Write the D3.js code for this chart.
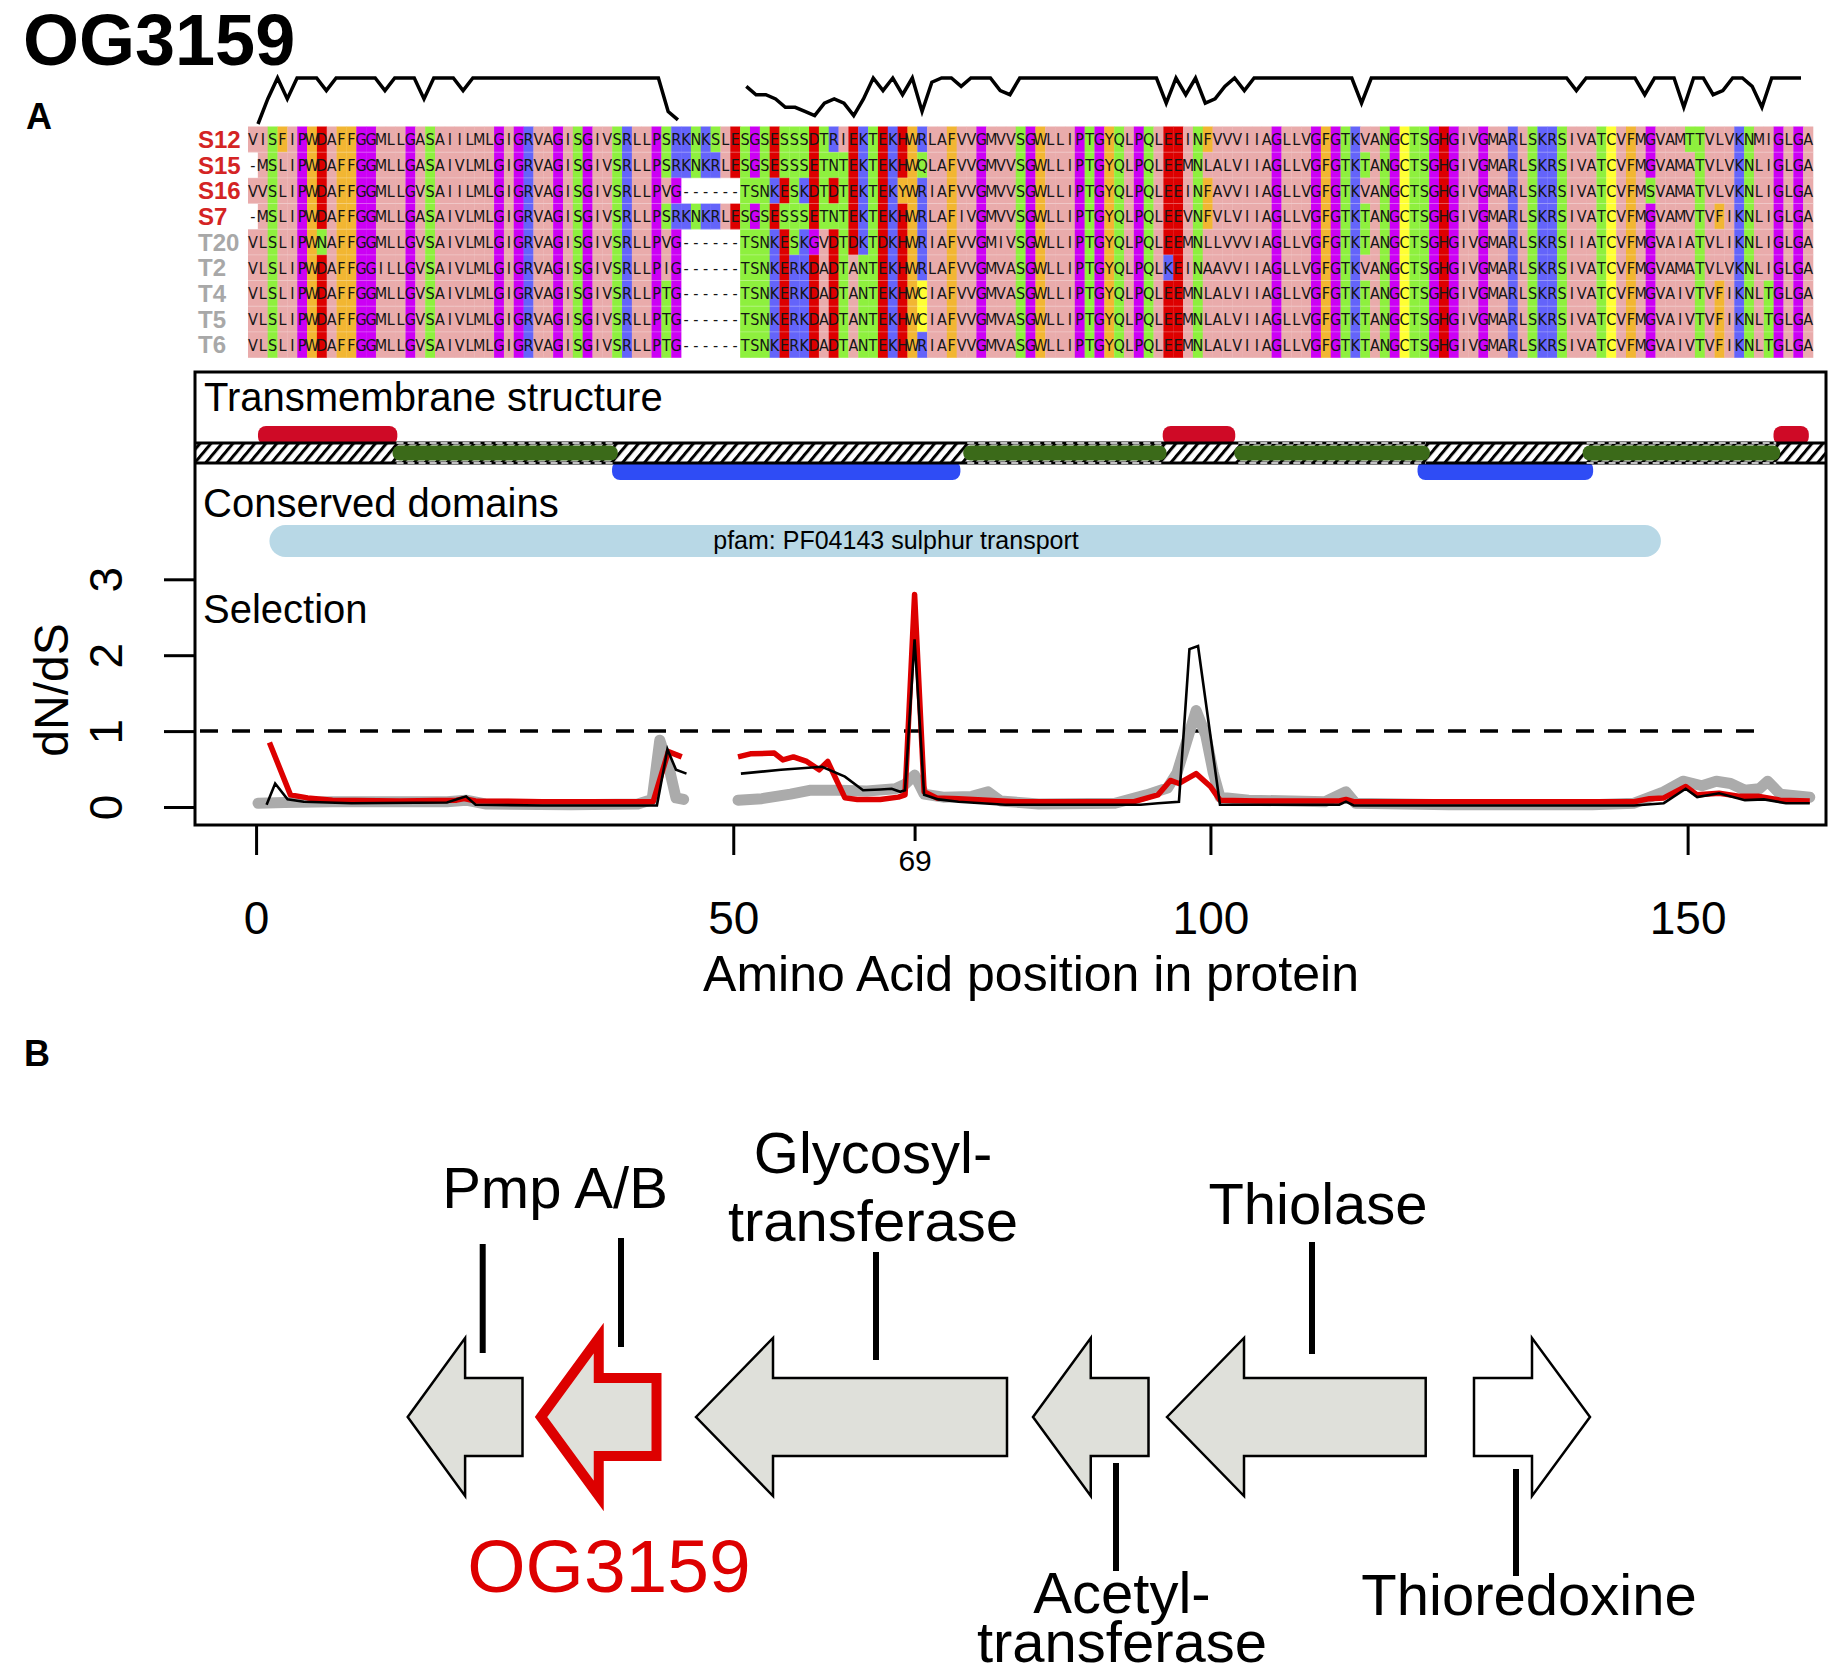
<!DOCTYPE html>
<html><head><meta charset="utf-8">
<script src="https://cdn.jsdelivr.net/npm/d3@7/dist/d3.min.js"></script>
<style>
html,body{margin:0;padding:0;background:#fff;}
svg{display:block;}
</style></head>
<body>
<svg id="chart" width="1837" height="1670"></svg>
<script>
// ---------------- DATA ----------------
const seqNames  = ["S12","S15","S16","S7","T20","T2","T4","T5","T6"];
const seqGroups = ["S","S","S","S","T","T","T","T","T"];
const seqStrings = [
 "VISFIPWDAFFGGMLLGASAIILMLGIGRVAGISGIVSRLLPSRKNKSL"+"ESGSESSSDTRIEKTEKHWRLAFVVGMVVSGWLLIPTGYQLPQLEEINFVVVII"+"AGLLVGFGTKVANGCTSGHGIVGMARLSKRSIVATCVFMGVAMTTVLVKNMIGLGA",
 "-MSLIPWDAFFGGMLLGASAIVLMLGIGRVAGISGIVSRLLPSRKNKRL"+"ESGSESSSETNTEKTEKHWQLAFVVGMVVSGWLLIPTGYQLPQLEEMNLALVII"+"AGLLVGFGTKTANGCTSGHGIVGMARLSKRSIVATCVFMGVAMATVLVKNLIGLGA",
 "VVSLIPWDAFFGGMLLGVSAIILMLGIGRVAGISGIVSRLLPVG------"+"TSNKESKDTDTEKTEKYWRIAFVVGMVVSGWLLIPTGYQLPQLEEINFAVVII"+"AGLLVGFGTKVANGCTSGHGIVGMARLSKRSIVATCVFMSVAMATVLVKNLIGLGA",
 "-MSLIPWDAFFGGMLLGASAIVLMLGIGRVAGISGIVSRLLPSRKNKRL"+"ESGSESSSETNTEKTEKHWRLAFIVGMVVSGWLLIPTGYQLPQLEEVNFVLVII"+"AGLLVGFGTKTANGCTSGHGIVGMARLSKRSIVATCVFMGVAMVTVFIKNLIGLGA",
 "VLSLIPWNAFFGGMLLGVSAIVLMLGIGRVAGISGIVSRLLPVG------"+"TSNKESKGVDTDKTDKHWRIAFVVGMIVSGWLLIPTGYQLPQLEEMNLLVVVI"+"AGLLVGFGTKTANGCTSGHGIVGMARLSKRSIIATCVFMGVAIATVLIKNLIGLGA",
 "VLSLIPWDAFFGGILLGVSAIVLMLGIGRVAGISGIVSRLLPIG------"+"TSNKERKDADTANTEKHWRLAFVVGMVASGWLLIPTGYQLPQLKEINAAVVII"+"AGLLVGFGTKVANGCTSGHGIVGMARLSKRSIVATCVFMGVAMATVLVKNLIGLGA",
 "VLSLIPWDAFFGGMLLGVSAIVLMLGIGRVAGISGIVSRLLPTG------"+"TSNKERKDADTANTEKHWCIAFVVGMVASGWLLIPTGYQLPQLEEMNLALVII"+"AGLLVGFGTKTANGCTSGHGIVGMARLSKRSIVATCVFMGVAIVTVFIKNLTGLGA",
 "VLSLIPWDAFFGGMLLGVSAIVLMLGIGRVAGISGIVSRLLPTG------"+"TSNKERKDADTANTEKHWCIAFVVGMVASGWLLIPTGYQLPQLEEMNLALVII"+"AGLLVGFGTKTANGCTSGHGIVGMARLSKRSIVATCVFMGVAIVTVFIKNLTGLGA",
 "VLSLIPWDAFFGGMLLGVSAIVLMLGIGRVAGISGIVSRLLPTG------"+"TSNKERKDADTANTEKHWRIAFVVGMVASGWLLIPTGYQLPQLEEMNLALVII"+"AGLLVGFGTKTANGCTSGHGIVGMARLSKRSIVATCVFMGVAIVTVFIKNLTGLGA"
];
// conservation score per alignment column (0-11), null = gap
const conservation = [
 0,6,11,6,11,11,11,8,11,11,
 11,11,11,8,11,11,11,6,11,11,
 11,8,11,11,11,11,11,11,11,11,
 11,11,11,11,11,11,11,11,11,11,
 11,11,3,1,null,null,null,null,null,null,
 9,7,7,6,4,4,3,2,5,6,
 5,2,6,11,8,11,7,11,3,10,
 11,11,9,11,11,11,8,7,11,11,
 11,11,11,11,11,11,11,11,11,11,
 11,11,11,5,11,7,11,5,6,9,
 11,8,11,11,11,11,11,11,11,11,
 11,11,11,5,11,11,11,11,11,11,
 11,11,11,11,11,11,11,11,11,11,
 11,11,11,11,11,8,11,11,11,11,
 11,11,7,11,11,11,4,11,11,7,
 8,11,11,9,4,11,11,11,11
];
// transmembrane topology (amino acid positions)
const topoStart = [0.2, 14.3, 37.3, 74.1, 95.0, 102.5, 121.7, 139.0, 159.0];
const topoEnd   = [14.8, 37.9, 73.8, 95.4, 102.6, 123.0, 140.1, 159.7, 162.7];
const topoType  = ["outside","TM","inside","TM","outside","TM","inside","TM","outside"];
// conserved domain
const domainStart = [1.4], domainEnd = [147.2], domainLabel = ["pfam: PF04143 sulphur transport"];
// dN/dS series: [position, value], null = break
const selGrey = [[0.2,0.05],[3,0.06],[8,0.07],[15,0.07],[20,0.07],[22,0.09],[24,0.04],[33,0.03],[40,0.04],[41.5,0.1],[42.3,0.88],[43.3,0.5],[44,0.12],[44.8,0.1],
 null,
 [50.5,0.09],[53,0.11],[56,0.17],[58,0.22],[61,0.22],[64,0.21],[67,0.24],[68,0.3],[69,0.42],[70,0.17],[72,0.13],[75,0.14],[76.7,0.2],[78,0.08],[82,0.04],[90,0.05],[93.3,0.16],[95.5,0.25],[96.5,0.45],[98.5,1.27],[99.5,0.95],[100.3,0.45],[101,0.13],[104,0.09],[112,0.07],[114.2,0.2],[115.2,0.05],[125,0.03],[140,0.03],[144.4,0.05],[147.5,0.2],[149.5,0.34],[151.5,0.28],[153,0.34],[154.5,0.31],[156,0.22],[157.5,0.24],[158.4,0.34],[159.7,0.17],[162.8,0.13]];
const selRed = [[1.4,0.85],[3.6,0.16],[5.4,0.12],[8,0.09],[15,0.08],[21,0.09],[21.8,0.11],[23,0.08],[30,0.07],[41.6,0.07],[42.4,0.4],[43.2,0.73],[44,0.69],[44.6,0.66],
 null,
 [50.5,0.66],[51.8,0.7],[54.3,0.71],[55.2,0.62],[56.3,0.66],[57.7,0.6],[59,0.49],[59.9,0.6],[61.7,0.12],[63,0.1],[65.4,0.1],[67.3,0.13],[68,0.16],[69,2.8],[70,0.2],[71.3,0.12],[73.6,0.11],[79.7,0.07],[92,0.07],[94.5,0.16],[95.8,0.35],[96.7,0.31],[98.5,0.44],[100,0.27],[101,0.09],[105,0.08],[113.5,0.08],[114.2,0.1],[115,0.07],[130,0.07],[144.4,0.07],[146,0.11],[147.5,0.12],[149.8,0.27],[151,0.16],[153.3,0.18],[155.5,0.14],[157.5,0.14],[159.7,0.09],[162.8,0.08]];
const selBlack = [[1.1,0.03],[2,0.31],[3.3,0.1],[5,0.07],[10,0.05],[20,0.06],[22,0.14],[23,0.03],[30,0.02],[42,0.02],[43.1,0.76],[44,0.49],[45.1,0.44],
 null,
 [50.8,0.44],[55,0.49],[59.3,0.53],[61.7,0.4],[63.6,0.22],[65.4,0.23],[66.6,0.24],[67.5,0.2],[68,0.22],[69,2.21],[70,0.16],[71.5,0.1],[73.6,0.07],[78.5,0.03],[92.7,0.03],[94.5,0.05],[96.7,0.07],[97.8,2.08],[98.7,2.12],[101,0.03],[113.5,0.03],[114.2,0.07],[115,0.02],[144.4,0.02],[147.5,0.05],[149.8,0.24],[151,0.13],[153.3,0.18],[156,0.09],[158,0.1],[160.3,0.05],[162.8,0.05]];
const neutralRatio = 1, neutralLineEnd = 157.9;
const yTicks = [0,1,2,3];
const xTicks = [0,50,100,150];
const highlightPos = [69];
// gene neighbourhood (bp)
const geneNames  = ["Pmp A/B","OG3159","Glycosyltransferase","Acetyltransferase","Thiolase","Thioredoxine"];
const geneStart  = [77, 1410, 2960, 6330, 7670, 10740];
const geneEnd    = [1225, 2565, 6070, 7485, 10257, 11900];
const geneStrand = [-1,-1,-1,-1,-1,1];
const geneMarkerPos = [827, 2210, 4760, 7160, 9120, 11160];

// ---------------- LAYOUT / STYLE ----------------
const FONT = '"Liberation Sans", Arial, Helvetica, sans-serif';
const svg = d3.select("#chart").attr("font-family", FONT);
const resColor = {A:"#e9abab",I:"#e9abab",L:"#e9abab",M:"#e9abab",V:"#e9abab",
  F:"#f2b632",W:"#f2b632",Y:"#f2b632",K:"#6464fa",R:"#6464fa",
  H:"#dd0000",D:"#dd0000",E:"#dd0000",S:"#8ef03e",T:"#8ef03e",N:"#8ef03e",Q:"#8ef03e",
  P:"#cc00f5",G:"#cc00f5",C:"#ffff33"};

// title & panel letters
svg.append("text").attr("x",23).attr("y",65).attr("font-size",72).attr("font-weight","bold").text("OG3159");
svg.append("text").attr("x",26).attr("y",129).attr("font-size",36).attr("font-weight","bold").text("A");
svg.append("text").attr("x",24).attr("y",1066).attr("font-size",36).attr("font-weight","bold").text("B");

// ---- alignment ----
const nCol = seqStrings[0].length;
const colX = d3.scaleBand().domain(d3.range(1,nCol+1)).range([248,1813]);
const rowY = d3.scaleBand().domain(seqNames).range([126.5,357.5]);
const aln = svg.append("g");
seqStrings.forEach((s,i)=>{
  const name = seqNames[i];
  const cells = s.split("").map((c,j)=>({c, col:j+1}));
  const g = aln.append("g");
  g.selectAll("rect").data(cells.filter(d=>d.c!=="-")).join("rect")
    .attr("x",d=>colX(d.col)).attr("y",rowY(name))
    .attr("width",colX.bandwidth()+0.3).attr("height",rowY.bandwidth()+0.3)
    .attr("fill",d=>resColor[d.c]||"#fff");
  g.selectAll("text").data(cells).join("text")
    .attr("x",d=>colX(d.col)+colX.bandwidth()/2).attr("y",rowY(name)+rowY.bandwidth()/2+6)
    .attr("text-anchor","middle").attr("font-size",16)
    .attr("font-family",'"Liberation Sans Narrow","DejaVu Sans Condensed",Arial,sans-serif')
    .attr("font-stretch","condensed")
    .attr("fill","#151515").text(d=>d.c);
  aln.append("text").attr("x",198).attr("y",rowY(name)+21.5)
    .attr("font-size",24).attr("font-weight","bold")
    .attr("fill",seqGroups[i]==="S"?"#d42424":"#a8a8a8").text(name);
});
aln.selectAll("line.sep").data(seqNames.slice(1)).join("line")
  .attr("x1",248).attr("x2",1813).attr("y1",d=>rowY(d)).attr("y2",d=>rowY(d))
  .attr("stroke","#fff").attr("stroke-opacity",0.35).attr("stroke-width",0.8);

// conservation line
const consX = d3.scaleLinear().domain([1,nCol]).range([258,1801]);
const consY = d3.scaleLinear().domain([0,11]).range([124,78]);
svg.append("path")
  .datum(conservation.map((v,i)=>v===null?null:[i+1,v]))
  .attr("d", d3.line().defined(d=>d!==null).x(d=>consX(d[0])).y(d=>consY(d[1])))
  .attr("fill","none").attr("stroke","#000").attr("stroke-width",3.5).attr("stroke-linejoin","miter");

// ---- lower panel ----
const x = d3.scaleLinear().domain([-6.4,164.5]).range([195,1826]);
const y = d3.scaleLinear().domain([0,3]).range([807,579.3]);
const boxL=195, boxR=1826, boxT=372, boxB=825;

svg.append("text").attr("x",204).attr("y",411).attr("font-size",40).text("Transmembrane structure");
svg.append("text").attr("x",203).attr("y",517).attr("font-size",40).text("Conserved domains");
svg.append("text").attr("x",203).attr("y",623).attr("font-size",40).text("Selection");

const defs = svg.append("defs");
const pat = defs.append("pattern").attr("id","hatch").attr("patternUnits","userSpaceOnUse")
  .attr("width",8.4).attr("height",8.4).attr("patternTransform","rotate(40)");
pat.append("rect").attr("width",8.4).attr("height",8.4).attr("fill","#fff");
pat.append("line").attr("x1",1.5).attr("y1",-1).attr("x2",1.5).attr("y2",10).attr("stroke","#000").attr("stroke-width",3);

const topo = topoStart.map((s,i)=>({s, e:topoEnd[i], t:topoType[i]}));
const bandT = 442, bandB = 464;
svg.append("g").selectAll("rect").data(topo.filter(d=>d.t!=="TM")).join("rect")
  .attr("x",d=>x(d.s)).attr("width",d=>x(d.e)-x(d.s))
  .attr("y",d=>d.t==="outside"?426:461).attr("height",19).attr("rx",8)
  .attr("fill",d=>d.t==="outside"?"#cf0a26":"#2f4cf5");
svg.append("rect").attr("x",boxL).attr("y",bandT).attr("width",boxR-boxL).attr("height",bandB-bandT).attr("fill","url(#hatch)");
svg.append("line").attr("x1",boxL).attr("x2",boxR).attr("y1",bandT+1).attr("y2",bandT+1).attr("stroke","#000").attr("stroke-width",3);
svg.append("line").attr("x1",boxL).attr("x2",boxR).attr("y1",bandB-1).attr("y2",bandB-1).attr("stroke","#000").attr("stroke-width",3);
const tm = topo.filter(d=>d.t==="TM");
svg.append("g").selectAll("rect").data(tm).join("rect")
  .attr("x",d=>x(d.s)).attr("width",d=>x(d.e)-x(d.s))
  .attr("y",bandT+3.5).attr("height",bandB-bandT-7).attr("rx",7)
  .attr("fill","#3b6a19");
[bandT+1,bandB-1].forEach(yy=>{
  svg.append("g").selectAll("line").data(tm).join("line")
    .attr("x1",d=>x(d.s)+4).attr("x2",d=>x(d.e)-4).attr("y1",yy).attr("y2",yy)
    .attr("stroke","#fff").attr("stroke-width",1.6).attr("stroke-dasharray","7,4");
});
const dom = domainStart.map((s,i)=>({s,e:domainEnd[i],l:domainLabel[i]}));
svg.append("g").selectAll("rect").data(dom).join("rect")
  .attr("x",d=>x(d.s)).attr("width",d=>x(d.e)-x(d.s)).attr("y",525).attr("height",32).attr("rx",16)
  .attr("fill","#b8d8e6");
svg.append("g").selectAll("text").data(dom).join("text")
  .attr("x",896).attr("y",549).attr("text-anchor","middle").attr("font-size",25).text(d=>d.l);

svg.append("line").attr("x1",200).attr("x2",x(neutralLineEnd)).attr("y1",y(neutralRatio)).attr("y2",y(neutralRatio))
  .attr("stroke","#000").attr("stroke-width",3.5).attr("stroke-dasharray","18,14");

const lineGen = d3.line().defined(d=>d!==null).x(d=>x(d[0])).y(d=>y(d[1]));
svg.append("path").datum(selGrey).attr("d",lineGen).attr("fill","none")
  .attr("stroke","#ababab").attr("stroke-width",11).attr("stroke-linejoin","round").attr("stroke-linecap","round");
svg.append("path").datum(selRed).attr("d",lineGen).attr("fill","none")
  .attr("stroke","#dd0000").attr("stroke-width",5.5).attr("stroke-linejoin","round");
svg.append("path").datum(selBlack).attr("d",lineGen).attr("fill","none")
  .attr("stroke","#000").attr("stroke-width",2.6).attr("stroke-linejoin","miter");

svg.append("rect").attr("x",boxL).attr("y",boxT).attr("width",boxR-boxL).attr("height",boxB-boxT)
  .attr("fill","none").attr("stroke","#000").attr("stroke-width",3);

const yAx = svg.append("g").attr("transform",`translate(${boxL},0)`)
  .call(d3.axisLeft(y).tickValues(yTicks).tickSize(31).tickSizeOuter(0).tickFormat(d3.format("d")));
yAx.select(".domain").remove();
yAx.selectAll(".tick line").attr("stroke-width",3);
yAx.selectAll(".tick text").attr("x",null).attr("dy",null).attr("y",null)
  .attr("transform",`translate(${122-boxL},0) rotate(-90)`)
  .attr("text-anchor","middle").attr("font-size",46).attr("font-family",FONT).attr("fill","#000");

const xAx = svg.append("g").attr("transform",`translate(0,${boxB+1})`)
  .call(d3.axisBottom(x).tickValues(xTicks).tickSize(29).tickSizeOuter(0).tickFormat(d3.format("d")));
xAx.select(".domain").remove();
xAx.selectAll(".tick line").attr("stroke-width",3);
xAx.selectAll(".tick text").attr("y",108).attr("dy",null).attr("font-size",46).attr("font-family",FONT).attr("fill","#000");

const hAx = svg.append("g").attr("transform",`translate(0,${boxB+1})`)
  .call(d3.axisBottom(x).tickValues(highlightPos).tickSize(15).tickSizeOuter(0).tickFormat(d3.format("d")));
hAx.select(".domain").remove();
hAx.selectAll(".tick line").attr("stroke-width",3);
hAx.selectAll(".tick text").attr("y",45).attr("dy",null).attr("font-size",30).attr("font-family",FONT).attr("fill","#000");

svg.append("text").attr("transform","translate(68,690) rotate(-90)").attr("text-anchor","middle")
  .attr("font-size",48).text("dN/dS");
svg.append("text").attr("x",1031).attr("y",991).attr("text-anchor","middle").attr("font-size",50)
  .text("Amino Acid position in protein");

// ---- gene neighbourhood ----
const gx = d3.scaleLinear().domain([0,12000]).range([400,1600]);
const cy = 1417, headH = 158, shaftH = 78;
const genes = geneNames.map((n,i)=>({n, s:geneStart[i], e:geneEnd[i], str:geneStrand[i]}));
function arrowPath(d){
  const a = gx(d.s), b = gx(d.e), len = b-a, head = Math.min(len/2, 77);
  let pts;
  if(d.str<0){
    const hb = a+head;
    pts=[[a,cy],[hb,cy-headH/2],[hb,cy-shaftH/2],[b,cy-shaftH/2],[b,cy+shaftH/2],[hb,cy+shaftH/2],[hb,cy+headH/2]];
  } else {
    const hb = b-head;
    pts=[[b,cy],[hb,cy+headH/2],[hb,cy+shaftH/2],[a,cy+shaftH/2],[a,cy-shaftH/2],[hb,cy-shaftH/2],[hb,cy-headH/2]];
  }
  return d3.line()(pts)+"Z";
}
svg.append("g").selectAll("path").data(genes).join("path")
  .attr("d",arrowPath)
  .attr("fill",d=>d.str>0?"#fff":"#dfe0da")
  .attr("stroke",d=>d.n==="OG3159"?"#dd0000":"#000")
  .attr("stroke-width",d=>d.n==="OG3159"?10:2.5)
  .attr("stroke-linejoin","miter").attr("stroke-miterlimit",10);

const markerY = [[1244,1353],[1238,1347],[1252,1360],[1463,1571],[1242,1354],[1469,1576]];
svg.append("g").selectAll("line").data(geneMarkerPos).join("line")
  .attr("x1",d=>gx(d)).attr("x2",d=>gx(d))
  .attr("y1",(d,i)=>markerY[i][0]).attr("y2",(d,i)=>markerY[i][1])
  .attr("stroke","#000").attr("stroke-width",6);

const labelLayout = [
  {t:"Pmp A/B", x:555, y:1208},
  {t:"Glycosyl-", x:873, y:1173},
  {t:"transferase", x:873, y:1241},
  {t:"Thiolase", x:1318, y:1224},
  {t:"Acetyl-", x:1122, y:1613},
  {t:"transferase", x:1122, y:1662},
  {t:"Thioredoxine", x:1529, y:1615}
];
svg.append("g").selectAll("text").data(labelLayout).join("text")
  .attr("x",d=>d.x).attr("y",d=>d.y).attr("text-anchor","middle").attr("font-size",58).text(d=>d.t);
svg.append("text").attr("x",609).attr("y",1592).attr("text-anchor","middle").attr("font-size",75)
  .attr("fill","#dd0000").text("OG3159");
</script>
</body></html>
